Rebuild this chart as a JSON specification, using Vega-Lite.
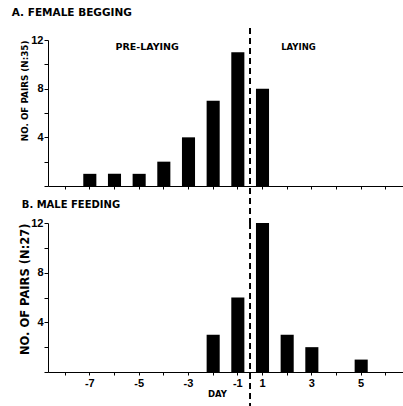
{
  "$schema": "https://vega.github.io/schema/vega-lite/v6.json",
  "padding": {"left": 11, "top": 8, "right": 0, "bottom": 0},
  "bounds": "flush",
  "spacing": 37,
  "config": {
    "font": "DejaVu Sans",
    "view": {"stroke": null},
    "axis": {"grid": false, "domainColor": "black", "tickColor": "black", "labelColor": "black", "titleColor": "black", "labelFont": "Liberation Sans"},
    "title": {"color": "black"}
  },
  "vconcat": [
    {
      "width": 355,
      "height": 146,
      "title": {"text": "A. FEMALE BEGGING", "anchor": "start", "fontSize": 10.5, "fontWeight": "bold", "offset": 9, "dx": -9},
      "data": {"values": [
        {"day": -7, "pairs": 1}, {"day": -6, "pairs": 1}, {"day": -5, "pairs": 1}, {"day": -4, "pairs": 2},
        {"day": -3, "pairs": 4}, {"day": -2, "pairs": 7}, {"day": -1, "pairs": 11}, {"day": 1, "pairs": 8}
      ]},
      "layer": [
        {
          "mark": {"type": "bar", "color": "black"},
          "encoding": {
            "x": {"field": "day", "type": "ordinal",
              "scale": {"domain": [-8, -7, -6, -5, -4, -3, -2, -1, 1, 2, 3, 4, 5, 6], "paddingInner": 0.47, "paddingOuter": 0.43},
              "axis": {"title": null, "labels": false, "tickSize": 3, "labelAngle": 0}},
            "y": {"field": "pairs", "type": "quantitative", "scale": {"domain": [0, 12]},
              "axis": {"tickCount": 6, "labelExpr": "(datum.value > 0 && datum.value % 4 === 0) ? datum.label : ''", "tickSize": 4,
                "labelFontSize": 11, "labelFontWeight": "bold", "labelPadding": 1,
                "title": "NO. OF PAIRS (N:35)", "titleFontSize": 8.8, "titleFontWeight": "bold", "titlePadding": 1, "titleAnchor": "end"}}
          }
        },
        {
          "mark": {"type": "rule", "color": "black", "strokeDash": [6, 4], "strokeWidth": 1, "yOffset": -12, "y2Offset": 37},
          "encoding": {
            "x": {"datum": -1, "type": "ordinal", "bandPosition": 1.44},
            "y": {"datum": 12, "type": "quantitative"},
            "y2": {"datum": 0}
          }
        },
        {
          "data": {"values": [{"day": -6, "phase": "PRE-LAYING"}]},
          "mark": {"type": "text", "align": "left", "baseline": "middle", "fontWeight": "bold", "fontSize": 9.5, "dx": 1, "color": "black"},
          "encoding": {
            "x": {"field": "day", "type": "ordinal"},
            "y": {"datum": 11.4, "type": "quantitative"},
            "text": {"field": "phase"}
          }
        },
        {
          "data": {"values": [{"day": 2, "phase": "LAYING"}]},
          "mark": {"type": "text", "align": "left", "baseline": "middle", "fontWeight": "bold", "fontSize": 8.5, "dx": -6, "color": "black"},
          "encoding": {
            "x": {"field": "day", "type": "ordinal"},
            "y": {"datum": 11.4, "type": "quantitative"},
            "text": {"field": "phase"}
          }
        }
      ]
    },
    {
      "width": 355,
      "height": 149,
      "title": {"text": "B. MALE FEEDING", "anchor": "start", "fontSize": 10, "fontWeight": "bold", "offset": 7, "dx": 2},
      "data": {"values": [
        {"day": -2, "pairs": 3}, {"day": -1, "pairs": 6}, {"day": 1, "pairs": 12},
        {"day": 2, "pairs": 3}, {"day": 3, "pairs": 2}, {"day": 5, "pairs": 1}
      ]},
      "layer": [
        {
          "mark": {"type": "bar", "color": "black"},
          "encoding": {
            "x": {"field": "day", "type": "ordinal",
              "scale": {"domain": [-8, -7, -6, -5, -4, -3, -2, -1, 1, 2, 3, 4, 5, 6], "paddingInner": 0.47, "paddingOuter": 0.43},
              "axis": {"title": "DAY", "labelExpr": "(datum.value % 2 != 0) ? datum.label : ''", "tickSize": 3, "labelAngle": 0,
                "labelFontSize": 11, "labelFontWeight": "bold", "titleFontSize": 8.5, "titleFontWeight": "bold", "titlePadding": 1, "titleX": 169}},
            "y": {"field": "pairs", "type": "quantitative", "scale": {"domain": [0, 12]},
              "axis": {"tickCount": 6, "labelExpr": "(datum.value > 0 && datum.value % 4 === 0) ? datum.label : ''", "tickSize": 4,
                "labelFontSize": 11, "labelFontWeight": "bold", "labelPadding": 1,
                "title": "NO. OF PAIRS (N:27)", "titleFontSize": 11.5, "titleFontWeight": "bold", "titlePadding": 0, "titleAnchor": "end"}}
          }
        },
        {
          "mark": {"type": "rule", "color": "black", "strokeDash": [6, 4], "strokeWidth": 1, "y2Offset": 34},
          "encoding": {
            "x": {"datum": -1, "type": "ordinal", "bandPosition": 1.44},
            "y": {"datum": 12, "type": "quantitative"},
            "y2": {"datum": 0}
          }
        }
      ]
    }
  ]
}
